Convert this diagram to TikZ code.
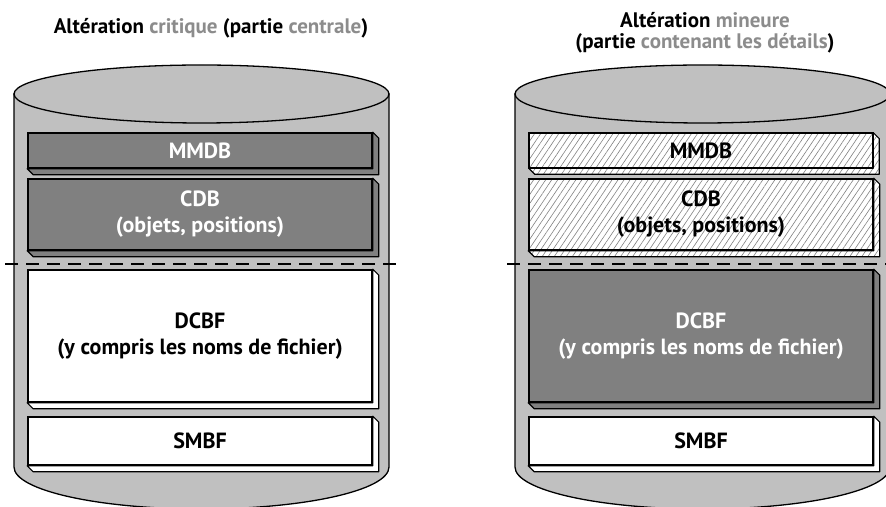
\documentclass[tikz,border=0pt]{standalone}
\usepackage{fontspec}
\setmainfont{PT Sans}
\usetikzlibrary{patterns.meta,calc}
\definecolor{cylgray}{RGB}{192,192,192}
\definecolor{boxgray}{RGB}{128,128,128}
\definecolor{titlegray}{RGB}{140,140,140}
\definecolor{hatchgray}{RGB}{130,130,130}
\newcommand\boxbevel[2]{%
  \draw[bevelline,#2] (#1.north east) -- ++(6,-6) -- ($(#1.south east)+(6,-6)$)
    -- ($(#1.south west)+(6,-6)$) -- (#1.south west) -- (#1.south east) -- cycle;}
\begin{document}
\begin{tikzpicture}[x=1pt,y=1pt,
  cyl/.style={fill=cylgray,draw=black,line width=1.3pt},
  bevelline/.style={draw=black,line width=1.2pt,line join=round},
  boxbase/.style={draw=black,line width=1.6pt,minimum width=344pt,inner sep=0pt,
    align=center,font=\fontsize{22}{26}\selectfont\bfseries},
  darkbox/.style={boxbase,fill=boxgray,text=white},
  whitebox/.style={boxbase,fill=white,text=black},
  hatchfill/.style={preaction={fill=white},pattern={Lines[angle=56,distance=5pt,line width=0.6pt]},pattern color=hatchgray},
  hatchbox/.style={boxbase,hatchfill,text=black},
  dashline/.style={draw=black,line width=1.5pt,dash pattern=on 13pt off 8pt},
  titlefont/.style={font=\fontsize{21}{21}\selectfont\bfseries,align=center,inner sep=0pt}
]
\useasboundingbox (0,0) rectangle (886,506);
\clip (0,0) rectangle (886,506);
\fill[white] (0,0) rectangle (886,506);

% ---------- left cylinder ----------
\draw[cyl] (14,412) -- (14,39)
   arc[start angle=180,end angle=360,x radius=187.5,y radius=42] -- (389,412) -- cycle;
\draw[cyl] (201.5,412) ellipse[x radius=187.5,y radius=29];

\node[darkbox,minimum height=35pt] (lmmdb) at (200,355.5) {MMDB};
\boxbevel{lmmdb}{fill=boxgray}
\node[darkbox,minimum height=71pt] (lcdb) at (200,291.5) {CDB\\(objets, positions)};
\boxbevel{lcdb}{fill=boxgray}
\node[whitebox,minimum height=132pt] (ldcbf) at (200,170) {DCBF\\(y compris les noms de fichier)};
\boxbevel{ldcbf}{fill=white}
\node[whitebox,minimum height=48pt] (lsmbf) at (200,65) {SMBF};
\boxbevel{lsmbf}{fill=white}

\coordinate (ld1) at (5,242);
\coordinate (ld2) at (398,242);
\draw[dashline] (ld1) -- (ld2);

% ---------- right cylinder ----------
\draw[cyl] (515,412) -- (515,39)
   arc[start angle=180,end angle=360,x radius=187.5,y radius=42] -- (890,412) -- cycle;
\draw[cyl] (702.5,412) ellipse[x radius=187.5,y radius=29];

\node[hatchbox,minimum height=35pt] (rmmdb) at (701,355.5) {MMDB};
\boxbevel{rmmdb}{hatchfill}
\node[hatchbox,minimum height=71pt] (rcdb) at (701,291.5) {CDB\\(objets, positions)};
\boxbevel{rcdb}{hatchfill}
\node[darkbox,minimum height=132pt] (rdcbf) at (701,170) {DCBF\\(y compris les noms de fichier)};
\boxbevel{rdcbf}{fill=boxgray}
\node[whitebox,minimum height=48pt] (rsmbf) at (701,65) {SMBF};
\boxbevel{rsmbf}{fill=white}

\coordinate (rd1) at (507,242);
\coordinate (rd2) at (886,242);
\draw[dashline] (rd1) -- (rd2);

% ---------- titles ----------
\node[titlefont,anchor=base] (ltitle) at (211,472.5)
  {Altération \textcolor{titlegray}{critique} (partie \textcolor{titlegray}{centrale})};
\node[titlefont] (rtitle) at (705,473)
  {Altération \textcolor{titlegray}{mineure}\\(partie \textcolor{titlegray}{contenant les détails})};
\end{tikzpicture}
\end{document}
